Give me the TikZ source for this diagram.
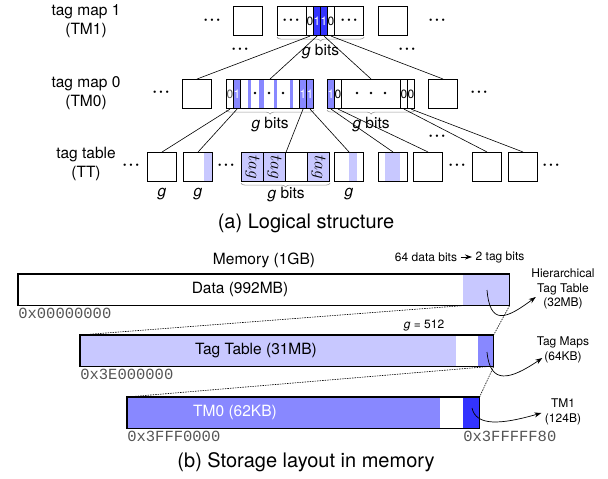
\documentclass[tikz,border=0pt]{standalone}
\usepackage{fontspec}
\usepackage{graphicx}
\setmainfont{TeX Gyre Heros}
\setmonofont{Liberation Mono}
\usetikzlibrary{arrows.meta, positioning, decorations.pathreplacing, backgrounds}
\definecolor{tagl}{HTML}{C8C8FF}
\definecolor{tagm}{HTML}{8888FF}
\definecolor{tagd}{HTML}{3333FF}
\definecolor{cgrey}{HTML}{555555}
\newcommand{\tridots}{\textbullet\hspace{3pt}\textbullet\hspace{3pt}\textbullet}
\tikzset{
  every picture/.style={font=\fontsize{15.5}{18.5}\selectfont, line width=0.6pt},
  blk/.style={draw, line width=1.1pt, inner sep=0pt, anchor=north west, minimum width=#1, minimum height=29},
  blk/.default=29,
  bitc/.style={blk=7, font=\fontsize{12}{12}\selectfont},
  onec/.style={bitc, fill=#1, text=white},
  tagc/.style={blk=22, fill=tagl, font=\fontsize{17}{17}\selectfont},
  ellip/.style={inner sep=0pt, font=\fontsize{9.5}{9.5}\selectfont},
  lvl/.style={align=center},
  gbrace/.style={decorate, decoration={brace, mirror, amplitude=4pt}, draw=cgrey!60, line width=0.6pt},
  seg/.style={inner sep=0pt, anchor=north west, minimum height=31, minimum width=#1},
  barframe/.style={draw, line width=1.1pt},
  dotline/.style={dash pattern=on 1.5pt off 1pt, line width=0.6pt},
  addr/.style={font=\ttfamily\fontsize{15.5}{16}\selectfont, text=cgrey, anchor=west, inner sep=0pt},
  note/.style={font=\fontsize{12}{14.5}\selectfont, align=center},
  callout/.style={-{Stealth[length=7pt, width=5pt]}, line width=0.7pt},
  capt/.style={font=\fontsize{20}{22}\selectfont},
}

\begin{document}
\begin{tikzpicture}[x=1pt, y=-1pt]
  \useasboundingbox (0,0) rectangle (608,479);
  % level names
  \node[lvl] (lv1) at (86,21) {tag map 1\\(TM1)};
  \node[lvl] (lv0) at (86,93) {tag map 0\\(TM0)};
  \node[lvl] (lvt) at (86,164) {tag table\\(TT)};

  % tag map 1
  \node[ellip] (d1a) at (212,21) {\tridots};
  \node[blk] (tm1a) at (233,6) {};
  \node[blk=86] (tm1b) at (277,6) {};
  \node[bitc] (b0) at (306,6) {0};
  \node[onec=tagd] (b1) at (313,6) {1};
  \node[onec=tagd] (b2) at (320,6) {1};
  \node[bitc] (b3) at (327,6) {0};
  \node[ellip] (d1b) at (291,21) {\tridots};
  \node[ellip] (d1c) at (349,21) {\tridots};
  \node[blk] (tm1c) at (378,6) {};
  \node[ellip] (d1d) at (437,21) {\tridots};
  \draw[gbrace] ([yshift=-1pt]tm1b.south west) -- ([yshift=-1pt]tm1b.south east);
  \node (gb1) at ([yshift=-15pt]tm1b.south) {\textit{g} bits};
  \node[ellip] (d1e) at (240,50) {\tridots};
  \node[ellip] (d1f) at (407,50) {\tridots};

  % tag map 0
  \node[ellip] (d0a) at (161,93) {\tridots};
  \node[blk] (tm0a) at (182,79) {};
  \node[blk=87] (tm0b) at (226,79) {};
  \node[bitc, text=cgrey] (c0) at (226,79) {0};
  \node[onec=tagm] (c1) at (233,79) {1};
  \node[onec=tagm] (c2) at (299,79) {1};
  \node[onec=tagm] (c3) at (306,79) {1};
  \node[blk=87] (tm0c) at (327,79) {};
  \node[onec=tagm] (c4) at (327,79) {1};
  \node[bitc] (c5) at (334,79) {0};
  \node[bitc] (c6) at (400,79) {0};
  \node[bitc] (c7) at (407,79) {0};
  \node[blk] (tm0d) at (428,79) {};
  \node[ellip] (d0b) at (479,93) {\tridots};
  \foreach \x in {255,269,283,357,371,385} \fill (\x,93) circle[radius=1.3pt];
  \begin{scope}[on background layer]
    \foreach \a/\b in {248/251, 259/264, 274/277, 290/293} \fill[tagm] (\a,79) rectangle (\b,108);
  \end{scope}
  \draw[gbrace] ([yshift=-1pt]tm0b.south west) -- ([yshift=-1pt]tm0b.south east);
  \node (gb2) at ([yshift=-15pt]tm0b.south) {\textit{g} bits};
  \draw[gbrace] ([yshift=-1pt]tm0c.south west) -- ([yshift=-1pt]tm0c.south east);
  \node (gb3) at ([yshift=-15pt]tm0c.south) {\textit{g} bits};
  \node[ellip] (d0c) at (437,137) {\tridots};

  % tag table
  \node[ellip] (dta) at (131,166) {\tridots};
  \node[blk] (tt1) at (147,152) {};
  \node[blk] (tt2) at (183,152) {};
  \node[ellip] (dtb) at (226,166) {\tridots};
  \node[tagc] (tt3a) at (241,152) {\rotatebox{-90}{$tag$}};
  \node[tagc] (tt3b) at (263,152) {\rotatebox{-90}{$tag$}};
  \node[blk=22] (tt3c) at (285,152) {};
  \node[tagc] (tt3d) at (307,152) {\rotatebox{-90}{$tag$}};
  \node[blk] (tt4) at (334,152) {};
  \node[blk] (tt5) at (378,152) {};
  \node[blk] (tt6) at (413,152) {};
  \node[ellip] (dtc) at (457,166) {\tridots};
  \node[blk] (tt7) at (472,152) {};
  \node[blk] (tt8) at (508,152) {};
  \node[ellip] (dtd) at (551,166) {\tridots};
  \begin{scope}[on background layer]
    \foreach \a/\b in {204/212, 349/357, 385/400} \fill[tagl] (\a,152) rectangle (\b,181);
  \end{scope}
  \draw[gbrace] ([yshift=-1pt]tt3a.south west) -- ([yshift=-1pt]tt3d.south east);
  \node (gb4) at ([yshift=-12pt]tt3b.south east) {\textit{g} bits};
  \node (g1) at ([yshift=-12pt]tt1.south) {\textit{g}};
  \node (g2) at ([yshift=-12pt]tt2.south) {\textit{g}};
  \node (g4) at ([yshift=-12pt]tt4.south) {\textit{g}};

  % bits point down to the level below
  \draw (b0.south) -- (tm0a.north);
  \draw (b1.south) -- (tm0b.north);
  \draw (b2.south) -- (tm0c.north);
  \draw (b3.south) -- (tm0d.north);
  \draw (c0.south) -- (tt1.north);
  \draw (c1.south) -- (tt2.north);
  \draw (c2.south) -- (tt3b.north east);
  \draw (c3.south) -- (tt4.north);
  \draw (c4.south) -- (tt5.north);
  \draw (c5.south) -- (tt6.north);
  \draw (c6.south) -- (tt7.north);
  \draw (c7.south) -- (tt8.north);

  \node[capt] (capa) at (306,223) {(a) Logical structure};

  % memory layout
  \node (mem) at (264,260) {Memory (1GB)};
  \node[note] (dbits) at (426,257) {64 data bits};
  \node[note] (tbits) at (500,257) {2 tag bits};
  \draw[callout] (dbits) -- (tbits);

  \node[seg=445] (memdata) at (18,274) {};
  \node[seg=46, fill=tagl] (memtag) at (463,274) {};
  \draw[barframe] (memdata.north west) rectangle (memtag.south east);
  \node (datalbl) at (240,289.5) {Data (992MB)};
  \node[addr] (a0) at (18,313) {0x00000000};

  \node[note] (gval) at (424,326) {\textit{g} = 512};

  \node[seg=376, fill=tagl] (tagtab) at (80,335) {};
  \node[seg=22] (tabgap) at (456,335) {};
  \node[seg=15, fill=tagm] (tabmaps) at (478,335) {};
  \draw[barframe] (tagtab.north west) rectangle (tabmaps.south east);
  \node (tablbl) at (256,351) {Tag Table (31MB)};
  \node[addr] (a1) at (80,374) {0x3E000000};

  \node[seg=313, fill=tagm] (mapzero) at (127,397) {};
  \node[seg=23] (mapgap) at (440,397) {};
  \node[seg=16, fill=tagd] (mapone) at (463,397) {};
  \draw[barframe] (mapzero.north west) rectangle (mapone.south east);
  \node[text=white] (maplbl) at (235,412.5) {TM0 (62KB)};
  \node[addr] (a2) at (127,436) {0x3FFF0000};
  \node[addr] (a3) at (463,436) {0x3FFFFF80};

  \draw[dotline] (memtag.south west) -- (tagtab.north west);
  \draw[dotline] (memtag.south east) -- (tabmaps.north east);
  \draw[dotline] ([xshift=10pt]tabmaps.south west) -- (mapzero.north west);
  \draw[dotline] (tabmaps.south east) -- (mapone.north east);

  % what each region holds
  \node[note] (hier) at (563,289) {Hierarchical\\Tag Table\\(32MB)};
  \coordinate (hsrc) at (487,290);
  \draw[callout] (hsrc) .. controls (490,325) and (505,320) .. ([xshift=8pt, yshift=-8pt]hier.west);
  \node[note] (maps) at (563,350) {Tag Maps\\(64KB)};
  \coordinate (msrc) at (487,352);
  \draw[callout] (msrc) .. controls (490,385) and (510,380) .. ([xshift=9pt, yshift=-8pt]maps.west);
  \node[note] (tmlbl) at (563,412) {TM1\\(124B)};
  \coordinate (tsrc) at (472,408);
  \draw[callout] (tsrc) .. controls (476,426) and (500,425) .. ([yshift=-1pt]tmlbl.west);

  \node[capt] (capb) at (306,462) {(b) Storage layout in memory};
\end{tikzpicture}
\end{document}
